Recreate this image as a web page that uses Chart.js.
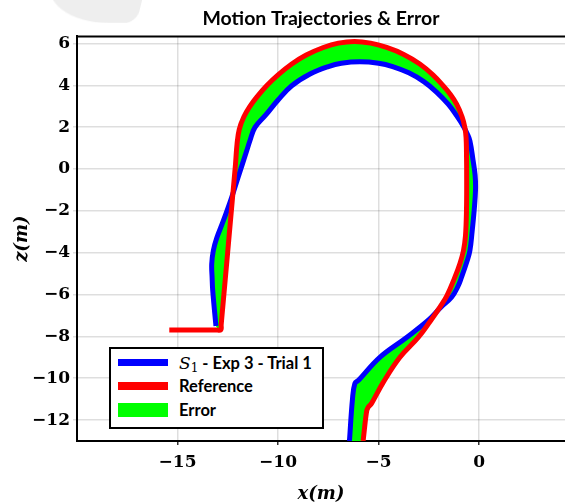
<!DOCTYPE html>
<html>
<head>
<meta charset="utf-8">
<script src="https://cdn.jsdelivr.net/npm/chart.js@4.4.1/dist/chart.umd.min.js"></script>
<style>
  body { margin: 0; background: #fff; overflow: hidden; }
  #wrap { position: relative; width: 565px; height: 504px; overflow: hidden; }
  #blob {
    position: absolute; left: 50px; top: -70px; width: 98px; height: 93px;
    background: #eeeeee; border-bottom-left-radius: 70px 45px; border-bottom-right-radius: 12px;
    transform: skewX(-14deg);
  }
  #legend {
    position: absolute; left: 109px; top: 347px; width: 211px; height: 78px;
    border: 2px solid #000; background: #fff;
    font-family: Lato, sans-serif; font-weight: bold; font-size: 16.5px; color: #000;
  }
  .row { position: absolute; left: 0; height: 20px; line-height: 20px; }
  .sw { position: absolute; left: 7px; width: 50px; }
  .txt { position: absolute; left: 68px; white-space: nowrap; }
  .math { font-family: "DejaVu Serif", serif; font-style: italic; font-weight: normal; font-size: 17px; }
  .math sub { font-style: normal; font-size: 12px; vertical-align: -3px; }
</style>
</head>
<body>
<div id="wrap">
  <div id="blob"></div>
  <canvas id="chart" width="565" height="504"></canvas>
  <div id="legend">
    <div class="row" style="top:4px"><span class="sw" style="top:6px;height:7px;background:#0000ff"></span><span class="txt"><span class="math">S<sub>1</sub></span> - Exp 3 - Trial 1</span></div>
    <div class="row" style="top:27px"><span class="sw" style="top:6px;height:8px;background:#ff0000"></span><span class="txt">Reference</span></div>
    <div class="row" style="top:51px"><span class="sw" style="top:3px;height:14px;background:#00ff00"></span><span class="txt">Error</span></div>
  </div>
</div>
<script>
// Reference trajectory (m)
const refX = [-5.77, -5.6, -5.52, -5.35, -4.77, -3.94, -3.03, -2.45, -1.95, -1.6, -1.21, -0.95, -0.78, -0.68, -0.63, -0.62,
  -0.63, -0.65, -0.71, -0.85, -1.12, -1.42, -1.79, -2.3, -2.95, -3.75, -4.6, -5.4, -6.2, -7.0, -7.75, -8.6, -9.32, -10.0, -10.57,
  -11.05, -11.4, -11.7, -11.93, -12.04, -12.12, -12.83, -12.85, -13.1, -15.41]
const refZ = [-13.0, -11.6, -11.39, -11.2, -10.2, -9.0, -8.05, -7.3, -6.6, -6.05, -5.18, -4.5, -3.9, -3.2, -2.0, -0.5,
  0.8, 1.5, 1.99, 2.5, 3.1, 3.55, 3.98, 4.5, 5.02, 5.48, 5.81, 6.02, 6.1, 6.02, 5.81, 5.45, 5.02, 4.5, 3.98,
  3.45, 3.0, 2.5, 1.9, 1.2, 0.2, -7.45, -7.69, -7.69, -7.69]

// S1 - Exp 3 - Trial 1 (m)
const s1X = [-6.45, -6.3, -6.18, -6.0, -4.94, -3.61, -2.5, -1.9, -1.37, -1.05, -0.88, -0.6, -0.46, -0.35, -0.25, -0.18,
  -0.2, -0.3, -0.46, -0.6, -0.75, -1.12, -1.54, -2.12, -2.75, -3.5, -4.3, -5.0, -5.93, -6.85, -7.5, -8.41,
  -9.32, -10.0, -10.6, -11.15, -11.4, -11.56, -11.99, -12.31, -12.72, -13.05, -13.22, -13.3, -13.28, -13.25, -13.09]
const s1Z = [-13.0, -11.0, -10.25, -10.1, -9.0, -8.05, -7.2, -6.6, -6.13, -5.6, -5.18, -4.4, -3.9, -3.0, -2.0, -1.0,
  -0.3, 0.4, 1.35, 1.7, 1.99, 2.55, 3.1, 3.68, 4.18, 4.6, 4.9, 5.06, 5.13, 5.06, 4.9, 4.54,
  3.98, 3.3, 2.6, 1.99, 1.35, 0.87, -0.4, -1.36, -2.47, -3.3, -3.9, -4.54, -5.2, -5.81, -7.5]

const xTicks = [-15, -10, -5, 0]
const zTicks = [6, 4, 2, 0, -2, -4, -6, -8, -10, -12]

const refPts = refX.map((x, i) => ({ x: x, y: refZ[i] }))
const s1Pts = s1X.map((x, i) => ({ x: x, y: s1Z[i] }))
// error band: S1 path, then reference path back (without the flat tail)
const errPts = s1Pts.concat(refPts.slice(0, refPts.length - 2).reverse())

const minus = (v) => (v < 0 ? '\u2212' + Math.abs(v) : String(v))

const topBorder = {
  id: 'topBorder',
  afterDraw(chart) {
    const { ctx, chartArea } = chart
    ctx.save()
    ctx.strokeStyle = '#000'
    ctx.lineWidth = 2
    ctx.beginPath()
    ctx.moveTo(chartArea.left, chartArea.top)
    ctx.lineTo(chartArea.right, chartArea.top)
    ctx.stroke()
    ctx.restore()
  }
}

new Chart(document.getElementById('chart'), {
  type: 'scatter',
  data: {
    datasets: [
      {
        label: 'Reference',
        data: refPts,
        showLine: true,
        borderColor: '#ff0000',
        borderWidth: 5,
        pointRadius: 0,
        tension: 0.4,
        fill: false,
        borderJoinStyle: 'round',
        order: 0
      },
      {
        label: 'S1 - Exp 3 - Trial 1',
        data: s1Pts,
        showLine: true,
        borderColor: '#0000ff',
        borderWidth: 5,
        pointRadius: 0,
        tension: 0.4,
        fill: false,
        borderJoinStyle: 'round',
        order: 1
      },
      {
        label: 'Error',
        data: errPts,
        showLine: true,
        borderWidth: 0,
        borderColor: 'rgba(0,0,0,0)',
        backgroundColor: '#00ff00',
        pointRadius: 0,
        tension: 0.4,
        fill: 'shape',
        order: 2
      }
    ]
  },
  options: {
    responsive: false,
    animation: false,
    devicePixelRatio: 1,
    layout: { padding: 0 },
    plugins: {
      legend: { display: false },
      tooltip: { enabled: false },
      title: {
        display: true,
        text: 'Motion Trajectories & Error',
        color: '#000',
        fullSize: false,
        font: { family: 'Lato', weight: 'bold', size: 19.5 },
        padding: { top: 7, bottom: 6 }
      }
    },
    scales: {
      x: {
        type: 'linear',
        min: -20,
        max: 4.27,
        afterBuildTicks: (scale) => { scale.ticks = xTicks.map((v) => ({ value: v })) },
        afterFit: (scale) => { scale.height = 63 },
        border: { display: true, color: '#000', width: 2 },
        grid: { color: 'rgba(0,0,0,0.13)', lineWidth: 1.5, tickLength: 4, tickColor: '#333' },
        ticks: {
          color: '#000',
          padding: 7,
          font: { family: 'DejaVu Serif', weight: 'bold', size: 17 },
          callback: (v) => minus(v)
        },
        title: {
          display: true,
          text: 'x(m)',
          color: '#000',
          font: { family: 'DejaVu Serif', style: 'italic', weight: 'bold', size: 18 },
          padding: { top: 0, bottom: -1 }
        }
      },
      y: {
        type: 'linear',
        min: -13,
        max: 6.34,
        afterBuildTicks: (scale) => { scale.ticks = zTicks.map((v) => ({ value: v })) },
        afterFit: (scale) => { scale.width = 77 },
        border: { display: true, color: '#000', width: 2 },
        grid: { color: 'rgba(0,0,0,0.13)', lineWidth: 1.5, tickLength: 4, tickColor: 'rgba(0,0,0,0.13)' },
        ticks: {
          color: '#000',
          padding: 3,
          font: { family: 'DejaVu Serif', weight: 'bold', size: 17 },
          callback: (v) => minus(v)
        },
        title: {
          display: true,
          text: 'z(m)',
          color: '#000',
          font: { family: 'DejaVu Serif', style: 'italic', weight: 'bold', size: 18 },
          padding: { top: 12, bottom: 0 }
        }
      }
    }
  },
  plugins: [topBorder]
})
</script>
</body>
</html>
